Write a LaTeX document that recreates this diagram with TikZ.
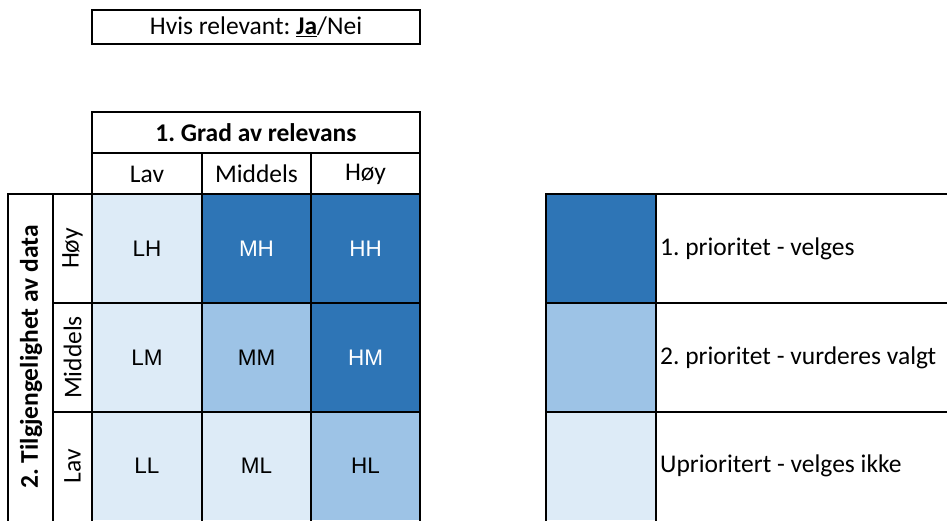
\documentclass[tikz,border=0pt]{standalone}
\usepackage{fontspec}
\setmainfont{Carlito}
\newfontfamily\cellfont{Liberation Sans}
\definecolor{darkblue}{HTML}{2E75B6}
\definecolor{midblue}{HTML}{9DC3E6}
\definecolor{paleblue}{HTML}{DDEBF7}
\frenchspacing

\begin{document}
\begin{tikzpicture}[x=1pt,y=-1pt,
  grid/.style={line width=2.2pt, black, line cap=rect},
  lbl/.style={font=\fontsize{25.5}{30}\selectfont, inner sep=0pt},
  code/.style={font=\cellfont\fontsize{22.5}{26}\selectfont, inner sep=0pt}]
\useasboundingbox (0,0) rectangle (947,520);

% cell fills of the matrix
\fill[paleblue] (92,194) rectangle (202,303);
\fill[darkblue] (202,194) rectangle (311,303);
\fill[darkblue] (311,194) rectangle (420,303);
\fill[paleblue] (92,303) rectangle (202,412);
\fill[midblue]  (202,303) rectangle (311,412);
\fill[darkblue] (311,303) rectangle (420,412);
\fill[paleblue] (92,412) rectangle (202,520);
\fill[paleblue] (202,412) rectangle (311,520);
\fill[midblue]  (311,412) rectangle (420,520);

% legend swatches
\fill[darkblue] (546,194) rectangle (656,303);
\fill[midblue]  (546,303) rectangle (656,412);
\fill[paleblue] (546,412) rectangle (656,520);

% top box
\draw[grid] (92,10) rectangle (420,44);
\node[lbl] (rel) at (256,27) {Hvis relevant: \underline{\textbf{Ja}}/Nei};

% matrix grid
\draw[grid] (92,194) -- (92,112) -- (420,112) -- (420,520);
\draw[grid] (92,153) -- (420,153);
\draw[grid] (202,153) -- (202,520);
\draw[grid] (311,153) -- (311,520);
\draw[grid] (8,194) -- (420,194);
\draw[grid] (53,303) -- (420,303);
\draw[grid] (53,412) -- (420,412);
\draw[grid] (8,194) -- (8,520);
\draw[grid] (53,194) -- (53,520);
\draw[grid] (92,194) -- (92,520);

% legend grid
\draw[grid] (546,520) -- (546,194) -- (947,194);
\draw[grid] (546,303) -- (947,303);
\draw[grid] (546,412) -- (947,412);
\draw[grid] (656,194) -- (656,520);

% headers
\node[lbl] (hdr) at (256,133) {\textbf{1. Grad av relevans}};
\node[lbl] (cl) at (147,174) {Lav};
\node[lbl] (cm) at (256.5,174) {Middels};
\node[lbl] (ch) at (365.5,174) {Høy};

\node[lbl, rotate=90] (vhdr) at (31,357) {\textbf{2. Tilgjengelighet av data}};
\node[lbl, rotate=90] (rh) at (72.5,248.5) {Høy};
\node[lbl, rotate=90] (rm) at (72.5,357.5) {Middels};
\node[lbl, rotate=90] (rl) at (72.5,466) {Lav};

% cell codes
\node[code] (LH) at (147,248.5) {LH};
\node[code, white] (MH) at (256.5,248.5) {MH};
\node[code, white] (HH) at (365.5,248.5) {HH};
\node[code] (LM) at (147,357.5) {LM};
\node[code] (MM) at (256.5,357.5) {MM};
\node[code, white] (HM) at (365.5,357.5) {HM};
\node[code] (LL) at (147,466) {LL};
\node[code] (ML) at (256.5,466) {ML};
\node[code] (HL) at (365.5,466) {HL};

% legend texts
\node[lbl, anchor=west] (p1) at (660,248.5) {1. prioritet - velges};
\node[lbl, anchor=west] (p2) at (660,357.5) {2. prioritet - vurderes valgt};
\node[lbl, anchor=west] (p3) at (660,466) {Uprioritert - velges ikke};
\end{tikzpicture}
\end{document}
